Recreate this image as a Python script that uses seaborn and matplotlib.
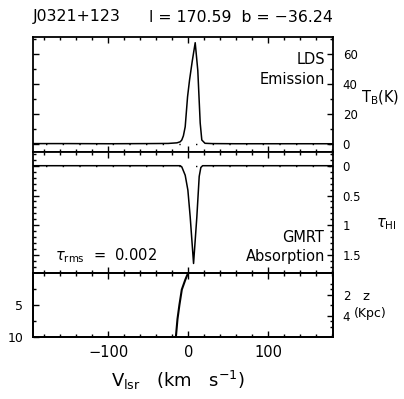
import numpy as np
import pandas as pd
import matplotlib
matplotlib.use("Agg")
import matplotlib.pyplot as plt
import seaborn as sns
from matplotlib.ticker import MultipleLocator, FixedLocator, FuncFormatter

sns.set_theme(style="ticks")
plt.rcParams['font.family'] = ['DejaVu Sans']
plt.rcParams['mathtext.fontset'] = 'dejavusans'
for k in ("text.color", "axes.labelcolor", "axes.edgecolor", "xtick.color", "ytick.color"):
    plt.rcParams[k] = "black"

# ---- data ----
source = "J0321+123"
gal_l = 170.59
gal_b = -36.24
tau_rms = 0.002

em_v = [-194, -150, -100, -50, -25, -14, -10, -8, -6, -3.75, -0.8, 1.7, 5, 8.75, 12, 15, 17, 21, 30, 60, 100, 150, 181]
em_tb = [0.3, 0.3, 0.2, 0.3, 0.4, 0.8, 1.5, 2.7, 5.5, 11.5, 31.5, 42.7, 55, 67.5, 49, 14, 2.7, 0.5, 0.3, 0.2, 0.2, 0.2, 0.2]

abs_v = [-194, -150, -100, -50, -20, -10, -8, -3.75, -0.4, 2.5, 6.7, 10.8, 13.75, 15.8, 18, 30, 60, 100, 150, 181]
abs_tau = [0.0, 0.0, 0.0, 0.0, 0.0, 0.0, 0.02, 0.16, 0.41, 0.86, 1.64, 0.86, 0.18, 0.03, 0.0, 0.0, 0.0, 0.0, 0.0, 0.0]

rot_d = [0, 0.5, 1.1, 2.6, 5, 7.2, 10]
rot_v = [0, -1.8, -3.75, -8, -11, -13.4, -15.4]

em = pd.DataFrame({"v": em_v, "tb": em_tb})
ab = pd.DataFrame({"v": abs_v, "tau": abs_tau})
rc = pd.DataFrame({"d": rot_d, "v": rot_v})

W_PX, H_PX = 404, 399
fig = plt.figure(figsize=(W_PX / 100, H_PX / 100), dpi=100)
L, R = 33 / W_PX, 333 / W_PX

def box(y0, y1):
    return [L, 1 - y1 / H_PX, R - L, (y1 - y0) / H_PX]

ax1 = fig.add_axes(box(37, 152))
ax2 = fig.add_axes(box(152, 273))
ax3 = fig.add_axes(box(273, 337))

xlim = (-194, 181)
lw = 1.1

sns.lineplot(data=em, x="v", y="tb", ax=ax1, color="black", lw=lw, sort=False)
ax1.axhline(0, color="black", lw=1.0, ls=(3, (1, 11)), zorder=0)
ax1.set_ylim(-5.3, 71.3)

sns.lineplot(data=ab, x="v", y="tau", ax=ax2, color="black", lw=lw, sort=False)
ax2.axhline(0, color="black", lw=1.0, ls=(3, (1, 11)), zorder=0)
ax2.set_ylim(1.80, -0.23)

sns.lineplot(data=rc, x="v", y="d", ax=ax3, color="black", lw=1.5, sort=False)
ax3.set_ylim(10, 0)

sinb = np.sin(np.radians(abs(gal_b)))
ax3r = ax3.twinx()
ax3r.set_ylim(10 * sinb, 0)

for ax in (ax1, ax2, ax3):
    ax.set_xlim(*xlim)
    ax.set_xlabel("")
    ax.set_ylabel("")
    ax.xaxis.set_major_locator(MultipleLocator(100))
    ax.xaxis.set_minor_locator(MultipleLocator(20))
    for s in ax.spines.values():
        s.set_linewidth(1.3)
        s.set_visible(True)
        s.set_color("black")
    ax.tick_params(which="both", direction="in", top=True, bottom=True,
                   left=True, right=True, width=1.0, colors="black")
    ax.tick_params(which="major", length=4.5)
    ax.tick_params(which="minor", length=2.3)

for ax in (ax1, ax2):
    ax.tick_params(labelbottom=False, labelleft=False, labelright=True,
                   labelsize=8.5, pad=7)

ax1.yaxis.set_major_locator(MultipleLocator(20))
ax1.yaxis.set_minor_locator(MultipleLocator(10))
ax2.yaxis.set_major_locator(FixedLocator([0, 0.5, 1, 1.5]))
ax2.yaxis.set_minor_locator(MultipleLocator(0.1))
ax2.yaxis.set_major_formatter(FuncFormatter(lambda v, p: f"{v:g}"))

ax3.yaxis.set_major_locator(FixedLocator([5, 10]))
ax3.yaxis.set_minor_locator(FixedLocator([2.5, 7.5]))
ax3.tick_params(labelbottom=True, labelleft=True, labelright=False, right=False,
                labelsize=10.5, pad=6)
ax3.tick_params(axis="y", labelsize=9, pad=7)
ax3.xaxis.set_major_formatter(FuncFormatter(lambda v, p: f"{v:g}".replace("-", "\u2212")))

ax3r.yaxis.set_major_locator(FixedLocator([2, 4]))
ax3r.yaxis.set_minor_locator(FixedLocator([1, 3, 5]))
ax3r.tick_params(which="both", direction="in", right=True, left=False,
                 labelright=True, labelsize=8.5, pad=7, width=1.0, colors="black")
ax3r.tick_params(which="major", length=4.5)
ax3r.tick_params(which="minor", length=2.3)
for s in ax3r.spines.values():
    s.set_linewidth(1.3)
    s.set_color("black")

def fx(px):
    return px / W_PX

def fy(py):
    return 1 - py / H_PX

fig.text(fx(33), fy(17), source, ha="left", va="center", fontsize=11.3)
fig.text(fx(333), fy(17), f"l = {gal_l:.2f}  b = {gal_b:.2f}".replace("-", "\u2212"),
         ha="right", va="center", fontsize=11.3)

fig.text(fx(325), fy(60), "LDS", ha="right", va="center", fontsize=10.5)
fig.text(fx(325), fy(79), "Emission", ha="right", va="center", fontsize=10.5)
fig.text(fx(361), fy(98), r"T$_{\rm B}$(K)", ha="left", va="center", fontsize=10.5)

fig.text(fx(324), fy(238), "GMRT", ha="right", va="center", fontsize=10.5)
fig.text(fx(325), fy(256), "Absorption", ha="right", va="center", fontsize=10.5)
fig.text(fx(55), fy(256), r"$\tau_{\rm rms}$  =  " + f"{tau_rms:.3f}", ha="left",
         va="center", fontsize=10.5)
fig.text(fx(376), fy(224), r"$\tau_{\rm HI}$", ha="left", va="center", fontsize=10.5)

fig.text(fx(366), fy(297), "z", ha="center", va="center", fontsize=9.5)
fig.text(fx(354), fy(313), "(Kpc)", ha="left", va="center", fontsize=9)

fig.text(fx(178), fy(380), r"V$_{\rm lsr}$   (km   s$^{-1}$)", ha="center",
         va="center", fontsize=13)

fig.savefig("out.png", dpi=100, facecolor="white")
